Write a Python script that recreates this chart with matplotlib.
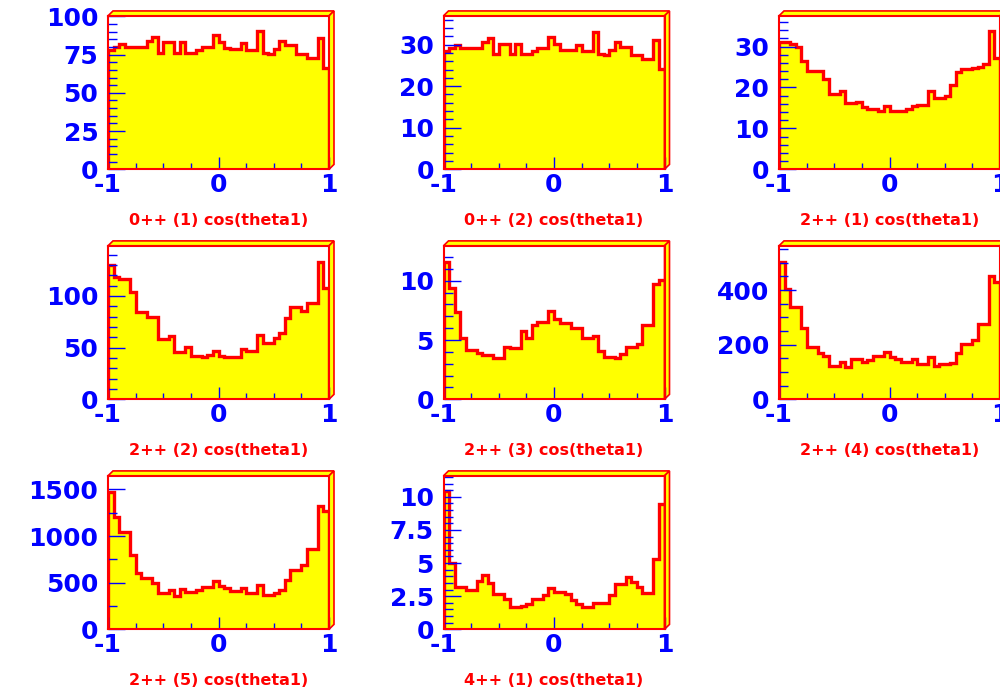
import numpy as np
import matplotlib.pyplot as plt
from matplotlib.patches import Polygon
from matplotlib.ticker import MultipleLocator, FormatStrFormatter

plt.rcParams['axes.unicode_minus'] = False
plt.rcParams['font.family'] = 'DejaVu Sans'
plt.rcParams['font.weight'] = 'bold'

# 40 bins in cos(theta1) from -1 to 1
edges = np.linspace(-1, 1, 41)

titles = ["0++ (1) cos(theta1)", "0++ (2) cos(theta1)", "2++ (1) cos(theta1)",
          "2++ (2) cos(theta1)", "2++ (3) cos(theta1)", "2++ (4) cos(theta1)",
          "2++ (5) cos(theta1)", "4++ (1) cos(theta1)"]

h_0pp_1 = [78, 80, 82, 80, 80, 80, 80, 84, 86.5, 76,
           83, 83, 76, 83, 76, 76, 78, 80, 80, 87.5,
           83, 79, 78.5, 78.5, 82.5, 78, 78, 90.5, 76, 75.5,
           78.5, 84, 81, 81, 75.5, 75.5, 73, 73, 85.5, 66.5]
h_0pp_2 = [28.4, 29.1, 29.8, 29.1, 29.1, 29.1, 29.1, 30.6, 31.5, 27.7,
           30.2, 30.2, 27.7, 30.2, 27.7, 27.7, 28.4, 29.1, 29.1, 31.9,
           30.2, 28.8, 28.6, 28.6, 30.0, 28.4, 28.4, 32.9, 27.7, 27.5,
           28.6, 30.6, 29.5, 29.5, 27.5, 27.5, 26.6, 26.6, 31.1, 24.2]
h_2pp_1 = [31.2, 31.0, 30.6, 29.8, 26.5, 24.0, 24.0, 24.1, 22.0, 18.4,
           18.4, 19.2, 16.1, 16.1, 16.5, 15.2, 14.7, 14.7, 14.3, 15.5,
           14.3, 14.3, 14.3, 14.7, 15.5, 15.6, 15.6, 19.2, 17.4, 17.4,
           17.9, 20.5, 23.9, 24.5, 24.5, 24.8, 25.0, 25.8, 33.8, 27.1]
h_2pp_2 = [130, 118, 116, 116, 104, 84, 84, 80, 80, 58,
           58, 61.5, 46, 46, 50.5, 42, 42, 40.6, 43, 46.5,
           42, 40.6, 40.6, 41, 48.4, 47, 47, 62, 54, 54,
           59.7, 64.5, 79, 89, 89, 85.5, 93.5, 93.5, 133, 108]
h_2pp_3 = [11.6, 9.35, 7.4, 5.2, 4.2, 4.2, 3.9, 3.7, 3.7, 3.5,
           3.5, 4.4, 4.35, 4.35, 5.75, 5.2, 6.3, 6.5, 6.5, 7.45,
           6.8, 6.45, 6.45, 6.0, 6.0, 5.15, 5.15, 5.35, 4.1, 3.6,
           3.6, 3.5, 3.8, 4.4, 4.4, 4.7, 6.3, 6.3, 9.7, 10.1]
h_2pp_4 = [504, 402, 337, 337, 260, 190, 190, 171, 160, 123,
           123, 138, 117, 146, 146, 135, 144, 159, 159, 174,
           154, 146, 138, 138, 146, 129, 129, 154, 122, 128,
           128, 134, 171, 202, 202, 217, 274, 274, 452, 430]
h_2pp_5 = [1475, 1207, 1046, 1046, 796, 600, 546, 546, 493, 386,
           386, 421, 357, 429, 404, 404, 421, 457, 457, 521,
           464, 439, 414, 414, 439, 386, 386, 475, 368, 368,
           393, 421, 529, 636, 636, 689, 857, 857, 1325, 1271]
h_4pp_1 = [10.4, 5.0, 3.17, 3.17, 3.0, 3.0, 3.67, 4.1, 3.47, 2.66,
           2.66, 2.26, 1.66, 1.66, 1.78, 1.88, 2.26, 2.26, 2.59, 3.09,
           2.84, 2.84, 2.64, 2.21, 1.91, 1.66, 1.66, 2.01, 2.01, 2.01,
           2.59, 3.42, 3.42, 3.92, 3.59, 3.17, 2.71, 2.71, 5.28, 9.45]

hists = [h_0pp_1, h_0pp_2, h_2pp_1, h_2pp_2, h_2pp_3, h_2pp_4, h_2pp_5, h_4pp_1]
ymax = [100.3, 36.9, 37.5, 148.5, 12.95, 562, 1646, 11.58]
ymajor = [25, 10, 10, 50, 5, 200, 500, 2.5]
yminor = [5, 2, 2, 10, 1, 50, 250, 0.5]

YELLOW = '#ffff00'
RED = '#ff0000'
BLUE = '#0000ff'

fig = plt.figure(figsize=(10, 6.92), dpi=100)
col_x = [0.108, 0.4435, 0.779]
row_y = [0.7553, 0.4230, 0.0906]
W, H = 0.221, 0.2218
dx, dy = 0.0226, 0.032

for k, vals in enumerate(hists):
    r, c = divmod(k, 3)
    ax = fig.add_axes([col_x[c], row_y[r], W, H])
    ax.stairs(vals, edges, fill=True, color=YELLOW, lw=0)
    ax.stairs(vals, edges, baseline=0, color=RED, lw=2.4)
    ax.set_xlim(-1, 1)
    ax.set_ylim(0, ymax[k])

    ax.xaxis.set_major_locator(MultipleLocator(1))
    ax.xaxis.set_minor_locator(MultipleLocator(0.25))
    ax.yaxis.set_major_locator(MultipleLocator(ymajor[k]))
    ax.yaxis.set_minor_locator(MultipleLocator(yminor[k]))
    ax.xaxis.set_major_formatter(FormatStrFormatter('%g'))
    ax.yaxis.set_major_formatter(FormatStrFormatter('%g'))

    ax.tick_params(which='both', direction='in', color=BLUE, width=1,
                   top=False, right=False)
    ax.tick_params(axis='x', which='major', length=8.5, pad=2.5)
    ax.tick_params(axis='x', which='minor', length=4.5)
    ax.tick_params(axis='y', which='major', length=12, pad=7)
    ax.tick_params(axis='y', which='minor', length=6.5)
    for lab in ax.get_xticklabels() + ax.get_yticklabels():
        lab.set_color(BLUE)
        lab.set_fontsize(18)
        lab.set_fontweight('bold')

    for sp in ax.spines.values():
        sp.set_color(RED)
        sp.set_linewidth(1.5)

    # raised frame: top and right bevels
    top = Polygon([(0, 1), (dx, 1 + dy), (1 + dx, 1 + dy), (1, 1)], closed=True,
                  transform=ax.transAxes, clip_on=False,
                  facecolor=YELLOW, edgecolor=RED, lw=1.2)
    side = Polygon([(1, 0), (1 + dx, dy), (1 + dx, 1 + dy), (1, 1)], closed=True,
                   transform=ax.transAxes, clip_on=False,
                   facecolor=YELLOW, edgecolor=RED, lw=1.2)
    ax.add_patch(top)
    ax.add_patch(side)

    ax.text(0.5, -0.335, titles[k], transform=ax.transAxes, ha='center',
            va='center', color=RED, fontsize=11.5, fontweight='bold')

fig.savefig('out.png', dpi=100)
